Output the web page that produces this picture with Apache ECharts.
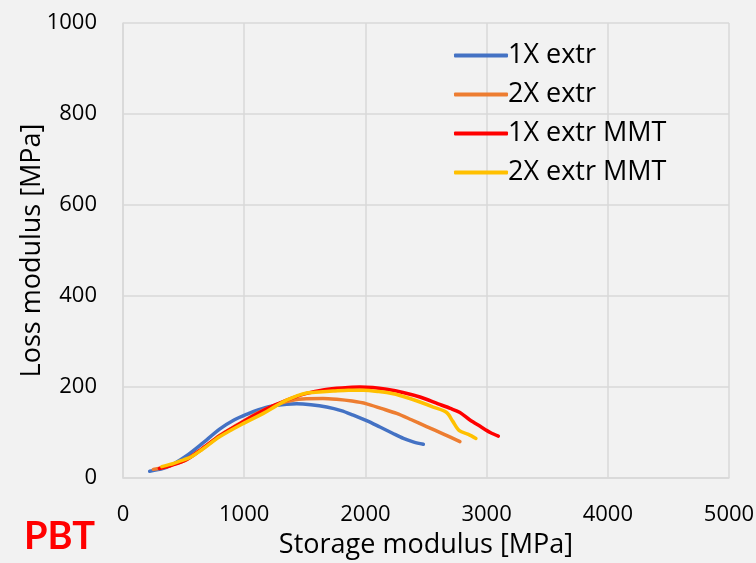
<!DOCTYPE html>
<html>
<head>
<meta charset="utf-8">
<script src="https://cdn.jsdelivr.net/npm/echarts@6/dist/echarts.min.js"></script>
<style>
  html, body { margin: 0; padding: 0; background: #f2f2f2; }
  #chart { width: 756px; height: 563px; }
</style>
</head>
<body>
<div id="chart"></div>
<script>
// Storage modulus (x) vs loss modulus (y), MPa
const seriesNames = ['1X extr', '2X extr', '1X extr MMT', '2X extr MMT'];
const seriesColors = ['#4472c4', '#ed7d31', '#ff0000', '#ffc000'];

const extr1X = [
  [220, 15], [333, 21], [430, 33], [525, 49], [650, 75], [800, 108], [920, 128],
  [1020, 140], [1120, 150], [1213, 157], [1350, 162], [1433, 163], [1550, 161],
  [1680, 156], [1800, 148], [1900, 138], [2010, 126], [2120, 112], [2220, 99],
  [2313, 87], [2400, 79], [2478, 74]
];
const extr2X = [
  [250, 19], [350, 24], [430, 31], [525, 40], [650, 63], [800, 94], [950, 118],
  [1075, 138], [1200, 154], [1295, 164], [1400, 171], [1515, 174], [1650, 175],
  [1763, 173], [1890, 169], [2010, 163], [2130, 153], [2258, 142], [2380, 128],
  [2505, 113], [2640, 97], [2780, 80]
];
const extr1XMMT = [
  [300, 21], [400, 28], [525, 41], [650, 64], [800, 93], [950, 117], [1100, 140],
  [1250, 160], [1400, 176], [1515, 186], [1640, 193], [1763, 197], [1860, 199],
  [1955, 200], [2060, 199], [2175, 195], [2310, 188], [2450, 178], [2600, 163],
  [2700, 153], [2780, 144], [2860, 128], [2950, 113], [3030, 100], [3097, 92]
];
const extr2XMMT = [
  [320, 25], [420, 32], [500, 40], [560, 46], [650, 62], [800, 91], [980, 118],
  [1158, 142], [1260, 158], [1350, 171], [1430, 180], [1515, 187], [1620, 189],
  [1735, 191], [1860, 193], [1983, 193], [2110, 190], [2230, 185], [2340, 177],
  [2450, 167], [2560, 156], [2670, 144], [2720, 125], [2775, 104], [2850, 96],
  [2912, 87]
];

const xTicks = { min: 0, max: 5000, interval: 1000 };
const yTicks = { min: 0, max: 1000, interval: 200 };

const seriesData = [extr1X, extr2X, extr1XMMT, extr2XMMT];
const fontFamily = '"Open Sans", Lato, sans-serif';
const plainNumber = v => String(v);

const chart = echarts.init(document.getElementById('chart'), null, { renderer: 'canvas' });

chart.setOption({
  backgroundColor: '#f2f2f2',
  animation: false,
  textStyle: { fontFamily: fontFamily, color: '#000' },
  grid: { left: 123, right: 27, top: 23, bottom: 85, containLabel: false, outerBoundsMode: 'none' },
  graphic: [{
    type: 'text',
    left: 24,
    top: 518,
    style: {
      text: 'PBT',
      fill: '#ff0000',
      font: 'bold 38px Lato, sans-serif'
    }
  }],
  legend: {
    orient: 'vertical',
    left: 449,
    top: 37,
    itemWidth: 54,
    itemHeight: 4,
    itemGap: 12,
    icon: 'roundRect',
    data: seriesNames,
    textStyle: { fontSize: 27, color: '#000', fontFamily: fontFamily, padding: [0, 0, 0, -5] }
  },
  xAxis: {
    type: 'value',
    min: xTicks.min,
    max: xTicks.max,
    interval: xTicks.interval,
    name: 'Storage modulus [MPa]',
    nameLocation: 'middle',
    nameGap: 54,
    nameMoveOverlap: false,
    nameTextStyle: { fontSize: 27, color: '#000', fontFamily: fontFamily },
    axisLine: { show: true, lineStyle: { color: '#d9d9d9', width: 1.5 } },
    axisTick: { show: false },
    splitLine: { show: true, lineStyle: { color: '#d9d9d9', width: 1.5 } },
    axisLabel: { fontSize: 22, color: '#000', margin: 26, fontFamily: fontFamily, formatter: plainNumber }
  },
  yAxis: {
    type: 'value',
    min: yTicks.min,
    max: yTicks.max,
    interval: yTicks.interval,
    name: 'Loss modulus [MPa]',
    nameLocation: 'middle',
    nameGap: 77,
    nameMoveOverlap: false,
    nameTextStyle: { fontSize: 27, color: '#000', fontFamily: fontFamily },
    axisLine: { show: true, lineStyle: { color: '#d9d9d9', width: 1.5 } },
    axisTick: { show: false },
    splitLine: { show: true, lineStyle: { color: '#d9d9d9', width: 1.5 } },
    axisLabel: { fontSize: 22, color: '#000', margin: 26, fontFamily: fontFamily, formatter: plainNumber }
  },
  series: seriesNames.map((name, i) => ({
    name: name,
    type: 'line',
    data: seriesData[i],
    smooth: 0.3,
    showSymbol: false,
    symbol: 'none',
    color: seriesColors[i],
    lineStyle: { width: 3.5, color: seriesColors[i], cap: 'round', join: 'round' }
  }))
});
</script>
</body>
</html>
